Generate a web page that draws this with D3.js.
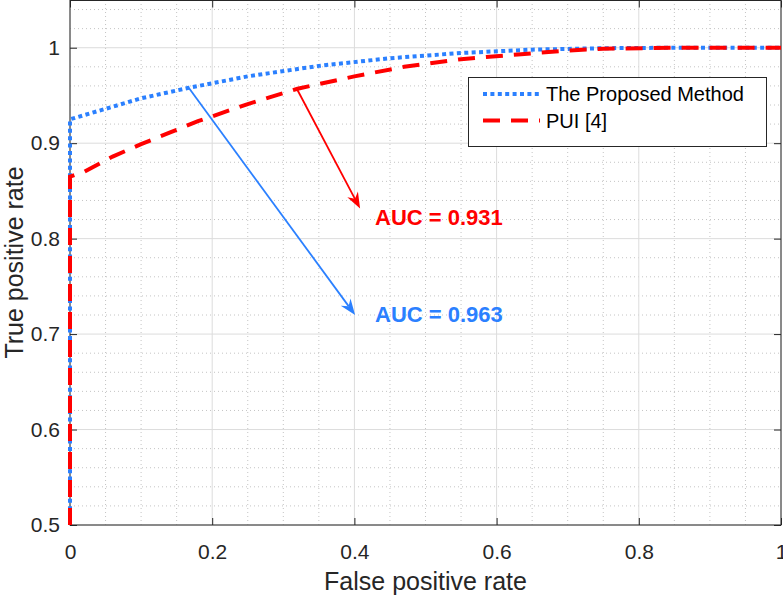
<!DOCTYPE html>
<html><head><meta charset="utf-8">
<script src="https://cdn.jsdelivr.net/npm/d3@7"></script>
<style>body{margin:0;background:#fff}svg{display:block}text{font-family:"Liberation Sans",Arial,Helvetica,sans-serif}</style>
</head><body><svg id="c" width="783" height="597"></svg>
<script>
const fprProposed = [0, 0, 0.05, 0.10, 0.167, 0.25, 0.35, 0.45, 0.55, 0.65, 0.75, 0.85, 1.0];
const tprProposed = [0.5, 0.925, 0.936, 0.947, 0.958, 0.970, 0.981, 0.989, 0.9945, 0.998, 0.9995, 1.0, 1.0];
const fprPUI = [0, 0, 0.02, 0.06, 0.10, 0.14, 0.18, 0.25, 0.32, 0.40, 0.47, 0.55, 0.63, 0.70, 0.75, 0.85, 1.0];
const tprPUI = [0.5, 0.865, 0.870, 0.886, 0.899, 0.911, 0.923, 0.941, 0.957, 0.970, 0.980, 0.988, 0.993, 0.997, 0.999, 1.0, 1.0];
const seriesNames = ["The Proposed Method", "PUI [4]"];
const xTicks = [0, 0.2, 0.4, 0.6, 0.8, 1];
const xTickLabels = ["0", "0.2", "0.4", "0.6", "0.8", "1"];
const yTicks = [0.5, 0.6, 0.7, 0.8, 0.9, 1];
const yTickLabels = ["0.5", "0.6", "0.7", "0.8", "0.9", "1"];
const aucLabels = ["AUC = 0.931", "AUC = 0.963"];
// arrows: [x0,y0,x1,y1] in data units, text anchor [x,y]
const arrowRed = [0.319, 0.957, 0.408, 0.8315];
const arrowBlue = [0.167, 0.958, 0.401, 0.720];
const textRed = [0.429, 0.8147];
const textBlue = [0.429, 0.713];

const BLUE = "#2B80FF", RED = "#FF0000", AX = "#262626";
const svg = d3.select("#c");
const L = 70, R = 781, T = 0, B = 525;
const x = d3.scaleLinear().domain([0, 1]).range([L, R]);
const y = d3.scaleLinear().domain([0.5, 1.05]).range([B, T]);

// minor grid
const g = svg.append("g");
d3.range(0.05, 1, 0.05).forEach(v => {
  if (Math.abs(v / 0.2 - Math.round(v / 0.2)) < 1e-6) return;
  g.append("line").attr("x1", x(v)).attr("x2", x(v)).attr("y1", T).attr("y2", B)
    .attr("stroke", "#c4c4c4").attr("stroke-width", 1).attr("stroke-dasharray", "1,3");
});
d3.range(0.52, 1.05, 0.02).forEach(v => {
  if (Math.abs(v / 0.1 - Math.round(v / 0.1)) < 1e-6) return;
  g.append("line").attr("x1", L).attr("x2", R).attr("y1", y(v)).attr("y2", y(v))
    .attr("stroke", "#c4c4c4").attr("stroke-width", 1).attr("stroke-dasharray", "1,3");
});
// major grid
xTicks.forEach(v => g.append("line").attr("x1", x(v)).attr("x2", x(v)).attr("y1", T).attr("y2", B).attr("stroke", "#dcdcdc").attr("stroke-width", 1));
yTicks.forEach(v => g.append("line").attr("x1", L).attr("x2", R).attr("y1", y(v)).attr("y2", y(v)).attr("stroke", "#dcdcdc").attr("stroke-width", 1));

// axes (box, inward ticks)
const ax = svg.append("g");
const xb = d3.axisBottom(x).tickValues(xTicks).tickFormat((d, i) => xTickLabels[i]).tickSizeInner(-7).tickSizeOuter(0).tickPadding(19);
const yl = d3.axisLeft(y).tickValues(yTicks).tickFormat((d, i) => yTickLabels[i]).tickSizeInner(-7).tickSizeOuter(0).tickPadding(10);
const xt = d3.axisTop(x).tickValues(xTicks).tickFormat("").tickSizeInner(-7).tickSizeOuter(0);
const yr = d3.axisRight(y).tickValues(yTicks).tickFormat("").tickSizeInner(-7).tickSizeOuter(0);
const gx = ax.append("g").attr("transform", `translate(0,${B})`).call(xb);
const gy = ax.append("g").attr("transform", `translate(${L},0)`).call(yl);
ax.append("g").attr("transform", `translate(0,${T + 0.5})`).call(xt);
ax.append("g").attr("transform", `translate(${R},0)`).call(yr);
ax.selectAll(".domain").remove();
ax.selectAll(".tick line").attr("stroke", AX);
ax.selectAll(".tick text").attr("fill", AX).style("font-size", "21px");
gx.selectAll(".tick text").attr("dy", "0.71em");
ax.append("rect").attr("x", L).attr("y", T + 0.5).attr("width", R - L).attr("height", B - T - 0.5)
  .attr("fill", "none").attr("stroke", AX).attr("stroke-width", 1);

// curves
const line = d3.line().x(d => x(d[0])).y(d => y(d[1]));
const dProp = fprProposed.map((v, i) => [v, tprProposed[i]]);
const dPui = fprPUI.map((v, i) => [v, tprPUI[i]]);
svg.append("path").attr("d", line(dProp)).attr("fill", "none").attr("stroke", BLUE)
  .attr("stroke-width", 4).attr("stroke-dasharray", "4,3.4");
svg.append("path").attr("d", line(dPui)).attr("fill", "none").attr("stroke", RED)
  .attr("stroke-width", 4).attr("stroke-dasharray", "17,11");

// arrows
function arrow(a, color) {
  const x0 = x(a[0]), y0 = y(a[1]), x1 = x(a[2]), y1 = y(a[3]);
  const ang = Math.atan2(y1 - y0, x1 - x0);
  const hl = 16, hw = 6, notch = 11;
  const bx = x1 - notch * Math.cos(ang), by = y1 - notch * Math.sin(ang);
  svg.append("line").attr("x1", x0).attr("y1", y0).attr("x2", bx).attr("y2", by)
    .attr("stroke", color).attr("stroke-width", 1.8);
  const p = (l, w) => [x1 - l * Math.cos(ang) - w * Math.sin(ang), y1 - l * Math.sin(ang) + w * Math.cos(ang)];
  const pts = [[x1, y1], p(hl, hw), p(notch, 0), p(hl, -hw)];
  svg.append("path").attr("d", "M" + pts.map(q => q.join(",")).join("L") + "Z").attr("fill", color);
}
arrow(arrowRed, RED);
arrow(arrowBlue, BLUE);
svg.append("text").attr("x", x(textRed[0])).attr("y", y(textRed[1])).attr("fill", RED)
  .style("font-size", "22px").style("font-weight", "bold").text(aucLabels[0]);
svg.append("text").attr("x", x(textBlue[0])).attr("y", y(textBlue[1])).attr("fill", BLUE)
  .style("font-size", "22px").style("font-weight", "bold").text(aucLabels[1]);

// legend
const lg = svg.append("g").attr("transform", "translate(468,77)");
lg.append("rect").attr("x", 0.5).attr("y", 0.5).attr("width", 298).attr("height", 69).attr("fill", "#fff").attr("stroke", AX).attr("stroke-width", 1);
const styles = [{c: BLUE, da: "4,3.4"}, {c: RED, da: "17,11"}];
seriesNames.forEach((n, i) => {
  const cy = 17 + i * 26.5;
  lg.append("line").attr("x1", 15).attr("x2", 72).attr("y1", cy).attr("y2", cy)
    .attr("stroke", styles[i].c).attr("stroke-width", 4).attr("stroke-dasharray", styles[i].da);
  lg.append("text").attr("x", 78).attr("y", cy).attr("dy", "0.35em").attr("fill", "#000").style("font-size", "20px").text(n);
});

// axis titles
svg.append("text").attr("x", (L + R) / 2).attr("y", 590).attr("text-anchor", "middle").attr("fill", AX).style("font-size", "25px").text("False positive rate");
svg.append("text").attr("transform", `translate(23,${(T + B) / 2}) rotate(-90)`).attr("text-anchor", "middle").attr("fill", AX).style("font-size", "25px").text("True positive rate");
</script></body></html>
